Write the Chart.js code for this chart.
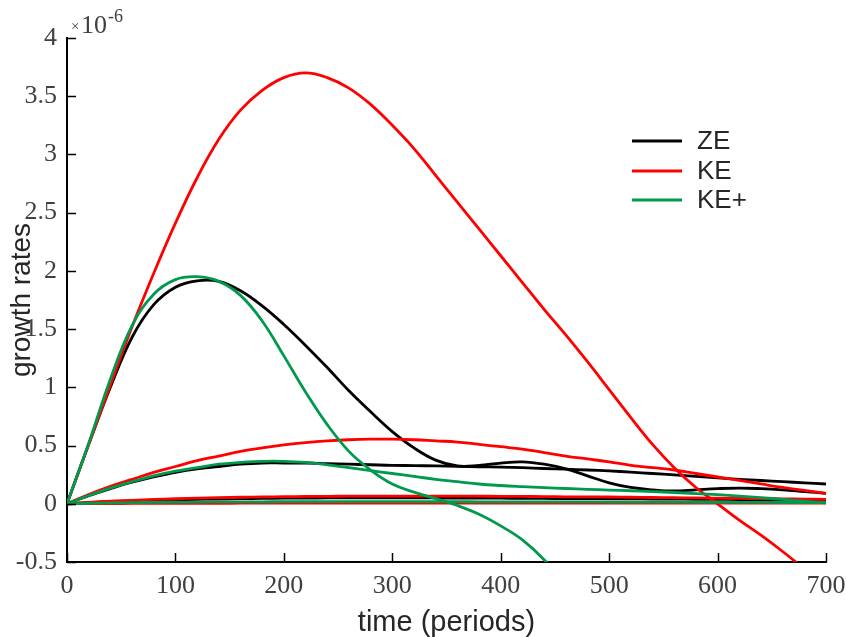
<!DOCTYPE html>
<html>
<head>
<meta charset="utf-8">
<script src="https://cdn.jsdelivr.net/npm/chart.js@4.4.1/dist/chart.umd.min.js"></script>
<style>
  html, body { margin: 0; padding: 0; background: #fff; }
  #wrap { width: 846px; height: 637px; }
</style>
</head>
<body>
<div id="wrap"><canvas id="growthChart" width="846" height="637"></canvas></div>
<script>
// time axis (periods)
const time = [0,20,40,60,80,100,120,140,160,180,200,220,240,260,280,300,320,340,360,380,400,420,440,460,480,500,520,540,560,580,600,620,640,660,680,700];

// growth rates, in units of 1e-6
const ze1 = [0,0.51,1.00,1.43,1.71,1.86,1.915,1.91,1.83,1.70,1.54,1.36,1.17,0.97,0.79,0.62,0.48,0.375,0.325,0.33,0.35,0.36,0.34,0.30,0.24,0.18,0.14,0.12,0.11,0.12,0.13,0.135,0.13,0.12,0.105,0.09];
const ze2 = [0,0.07,0.13,0.185,0.23,0.27,0.30,0.32,0.34,0.35,0.35,0.35,0.345,0.34,0.335,0.33,0.328,0.325,0.322,0.318,0.315,0.31,0.303,0.297,0.29,0.282,0.272,0.26,0.248,0.235,0.222,0.21,0.20,0.19,0.18,0.17];
const ze3 = [0,0.009,0.017,0.024,0.03,0.034,0.038,0.041,0.044,0.046,0.048,0.049,0.05,0.05,0.05,0.05,0.05,0.05,0.049,0.049,0.048,0.047,0.046,0.045,0.044,0.043,0.042,0.041,0.04,0.039,0.038,0.036,0.035,0.033,0.032,0.03];

const ke1 = [0,0.51,1.02,1.52,1.98,2.41,2.80,3.13,3.38,3.55,3.66,3.70,3.66,3.57,3.43,3.25,3.05,2.82,2.59,2.36,2.13,1.90,1.67,1.45,1.22,0.98,0.74,0.51,0.31,0.14,0.00,-0.14,-0.27,-0.41,-0.56,-0.72];
const ke2 = [0,0.08,0.15,0.21,0.27,0.32,0.37,0.41,0.45,0.48,0.505,0.525,0.54,0.55,0.555,0.555,0.55,0.54,0.53,0.51,0.49,0.47,0.44,0.41,0.385,0.36,0.33,0.31,0.29,0.26,0.23,0.20,0.17,0.14,0.115,0.09];
const ke3 = [0,0.012,0.022,0.03,0.037,0.043,0.048,0.052,0.056,0.059,0.061,0.063,0.064,0.065,0.066,0.066,0.066,0.066,0.065,0.065,0.064,0.063,0.062,0.06,0.059,0.058,0.056,0.054,0.052,0.05,0.048,0.046,0.044,0.042,0.04,0.038];
const ke4 = [0,0.001,0.002,0.003,0.003,0.004,0.004,0.004,0.005,0.005,0.005,0.005,0.005,0.005,0.005,0.005,0.005,0.005,0.005,0.005,0.005,0.005,0.005,0.005,0.005,0.005,0.005,0.005,0.005,0.005,0.005,0.005,0.005,0.005,0.005,0.005];

const kep1 = [0,0.52,1.07,1.53,1.80,1.925,1.95,1.91,1.79,1.57,1.27,0.96,0.68,0.45,0.29,0.17,0.10,0.045,-0.015,-0.09,-0.19,-0.31,-0.48,-0.70,null,null,null,null,null,null,null,null,null,null,null,null];
const kep2 = [0,0.07,0.135,0.19,0.24,0.28,0.31,0.34,0.355,0.365,0.365,0.355,0.335,0.31,0.285,0.26,0.235,0.21,0.19,0.17,0.157,0.147,0.138,0.131,0.124,0.118,0.112,0.105,0.097,0.088,0.078,0.066,0.052,0.038,0.022,0.008];
const kep3 = [0,0.004,0.007,0.01,0.012,0.014,0.015,0.016,0.017,0.017,0.018,0.018,0.018,0.018,0.018,0.018,0.018,0.018,0.018,0.017,0.017,0.017,0.016,0.016,0.016,0.015,0.015,0.014,0.014,0.013,0.013,0.012,0.012,0.011,0.011,0.01];

const legendLabels = ['ZE', 'KE', 'KE+'];
const xTickLabels = ['0','100','200','300','400','500','600','700'];
const yTickLabels = ['-0.5','0','0.5','1','1.5','2','2.5','3','3.5','4'];

const BLACK = '#000000';
const RED = '#ff0000';
const GREEN = '#00994d';
const TICK_COLOR = '#404040';

const toPoints = (ys) => time.map((t, i) => ({ x: t, y: ys[i] }));

const makeSet = (label, ys, color) => ({
  label: label,
  data: toPoints(ys),
  borderColor: color,
  backgroundColor: color,
  borderWidth: 2.8,
  pointRadius: 0,
  fill: false,
  tension: 0.4,
  spanGaps: false
});

// inward tick marks like the original figure
const innerTicks = {
  id: 'innerTicks',
  afterDraw(chart) {
    const { ctx, chartArea, scales } = chart;
    ctx.save();
    ctx.strokeStyle = '#000';
    ctx.lineWidth = 1.5;
    scales.x.ticks.forEach(t => {
      const px = Math.round(scales.x.getPixelForValue(t.value)) + 0.5;
      ctx.beginPath();
      ctx.moveTo(px, chartArea.bottom);
      ctx.lineTo(px, chartArea.bottom - 9);
      ctx.stroke();
    });
    scales.y.ticks.forEach(t => {
      const py = Math.round(scales.y.getPixelForValue(t.value)) + 0.5;
      ctx.beginPath();
      ctx.moveTo(chartArea.left, py);
      ctx.lineTo(chartArea.left + 9, py);
      ctx.stroke();
    });
    ctx.restore();
  }
};

// exponent note and legend
const extras = {
  id: 'extras',
  afterDraw(chart) {
    const { ctx, chartArea } = chart;
    ctx.save();
    ctx.fillStyle = TICK_COLOR;
    ctx.textBaseline = 'alphabetic';
    ctx.textAlign = 'left';
    ctx.font = '15px "Liberation Serif"';
    ctx.fillText('\u00d7', chartArea.left + 4, 31);
    ctx.font = '26px "Liberation Serif"';
    ctx.fillText('10', chartArea.left + 14, 33);
    ctx.font = '18px "Liberation Serif"';
    ctx.fillText('-6', chartArea.left + 41, 22);

    const colors = [BLACK, RED, GREEN];
    const rowY = [141, 171, 200];
    ctx.font = '26px "Liberation Sans"';
    ctx.textBaseline = 'middle';
    legendLabels.forEach((lab, i) => {
      ctx.strokeStyle = colors[i];
      ctx.lineWidth = 3;
      ctx.beginPath();
      ctx.moveTo(632, rowY[i]);
      ctx.lineTo(682, rowY[i]);
      ctx.stroke();
      ctx.fillStyle = '#262626';
      ctx.fillText(lab, 697, rowY[i] + 1);
    });
    ctx.restore();
  }
};

const ctx = document.getElementById('growthChart').getContext('2d');
const growthChart = new Chart(ctx, {
  type: 'line',
  data: {
    datasets: [
      makeSet('KE+', kep1, GREEN),
      makeSet('KE+', kep2, GREEN),
      makeSet('KE+', kep3, GREEN),
      makeSet('KE', ke1, RED),
      makeSet('KE', ke2, RED),
      makeSet('KE', ke3, RED),
      makeSet('KE', ke4, RED),
      makeSet('ZE', ze1, BLACK),
      makeSet('ZE', ze2, BLACK),
      makeSet('ZE', ze3, BLACK)
    ]
  },
  options: {
    responsive: false,
    animation: false,
    layout: { padding: { left: 0, right: 20, top: 38, bottom: 0 } },
    plugins: {
      legend: { display: false },
      tooltip: { enabled: false }
    },
    scales: {
      x: {
        type: 'linear',
        min: 0,
        max: 700,
        grid: { display: true, drawOnChartArea: false, drawTicks: false },
        border: { display: true, color: '#000', width: 2 },
        ticks: {
          stepSize: 100,
          padding: 9,
          color: TICK_COLOR,
          font: { family: 'Liberation Serif', size: 26 },
          maxRotation: 0,
          callback: (v, i) => xTickLabels[i]
        },
        title: {
          display: true,
          text: 'time (periods)',
          color: '#262626',
          font: { family: 'Liberation Sans', size: 29 },
          padding: { top: 0, bottom: -3 }
        },
        afterFit: (scale) => {
          scale.height = 75;
          scale.paddingLeft = 0;
          scale.paddingRight = 0;
        }
      },
      y: {
        type: 'linear',
        min: -0.5,
        max: 4,
        grid: { display: true, drawOnChartArea: false, drawTicks: false },
        border: { display: true, color: '#000', width: 2 },
        ticks: {
          stepSize: 0.5,
          padding: 10,
          color: TICK_COLOR,
          font: { family: 'Liberation Serif', size: 26 },
          callback: (v, i) => yTickLabels[i]
        },
        title: {
          display: true,
          text: 'growth rates',
          color: '#262626',
          font: { family: 'Liberation Sans', size: 28 },
          padding: { top: 5, bottom: 0 }
        },
        afterFit: (scale) => {
          scale.width = 67;
          scale.paddingTop = 0;
          scale.paddingBottom = 0;
        }
      }
    }
  },
  plugins: [innerTicks, extras]
});
</script>
</body>
</html>
